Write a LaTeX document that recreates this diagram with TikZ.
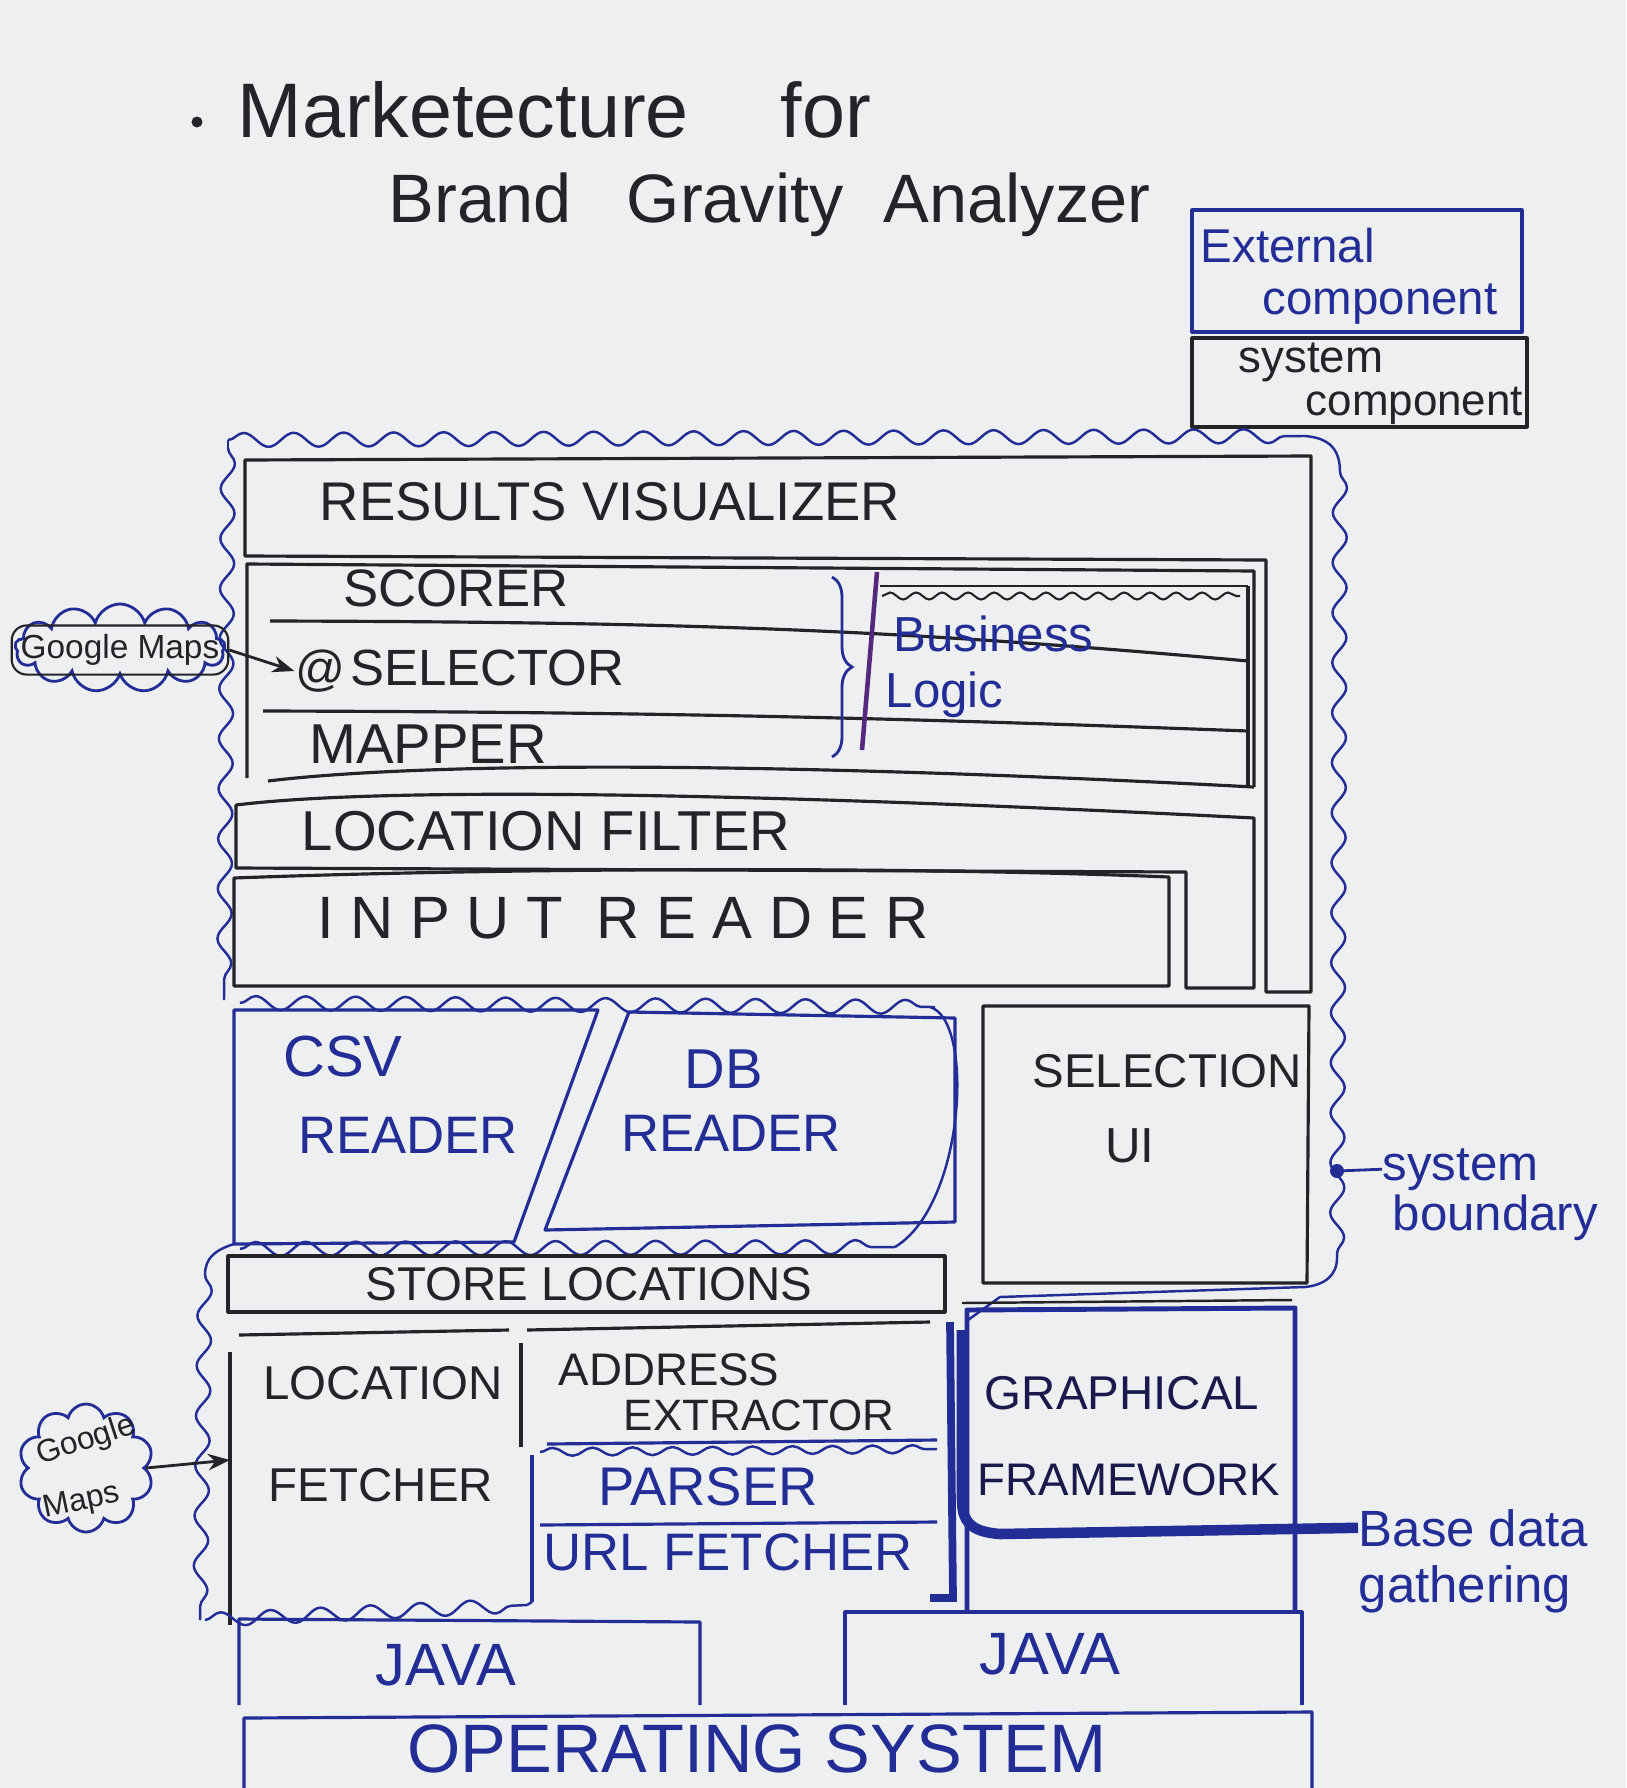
\documentclass[tikz,border=0pt]{standalone}
\usepackage{fontspec}
\setmainfont{Liberation Sans}
\usetikzlibrary{decorations.pathmorphing,decorations.pathreplacing,shapes.symbols,arrows.meta}
\definecolor{paper}{RGB}{238,239,241}
\definecolor{inkk}{RGB}{35,35,40}
\definecolor{inkb}{RGB}{35,45,150}
\definecolor{inkn}{RGB}{25,25,75}
\definecolor{inkp}{RGB}{85,40,125}
\tikzset{
  sysbox/.style={draw=inkk, line width=0.9pt, line join=round},
  extbox/.style={draw=inkb, line width=0.9pt, line join=round},
  wavy/.style={draw=inkb, line width=0.7pt, decorate, decoration={snake, amplitude=0.7mm, segment length=5mm}},
  ktext/.style={text=inkk, inner sep=0pt},
  btext/.style={text=inkb, inner sep=0pt},
  ntext/.style={text=inkn, inner sep=0pt},
  fs/.style={font=\fontsize{#1}{#1}\selectfont},
}
\begin{document}
\begin{tikzpicture}[x=0.1mm, y=-0.1mm]
\useasboundingbox (0,0) rectangle (1626,1788);
\fill[paper] (0,0) rectangle (1626,1788);

% ---------- title ----------
\node[circle, fill=inkk, inner sep=0pt, minimum size=1.1mm] (bul) at (197,122) {};
\node[ktext, fs=22, anchor=base west] (t1) at (237,137) {Marketecture};
\node[ktext, fs=22, anchor=base west] (t2) at (780,137) {for};
\node[ktext, fs=19.5, anchor=base west] (t3) at (388,222) {Brand};
\node[ktext, fs=19.5, anchor=base west] (t4) at (626,222) {Gravity};
\node[ktext, fs=19.5, anchor=base west] (t5) at (883,222) {Analyzer};

% ---------- legend ----------
\draw[extbox] (1192,210) rectangle (1522,332);
\node[btext, fs=13.5, anchor=base west] (le1) at (1200,262) {External};
\node[btext, fs=13.5, anchor=base west] (le2) at (1262,314) {component};
\draw[sysbox] (1192,338) rectangle (1527,427);
\node[ktext, fs=13, anchor=base west] (ls1) at (1238,372) {system};
\node[ktext, fs=12.5, anchor=base west] (ls2) at (1305,415) {component};

% ---------- system boundary (upper) ----------
\draw[wavy] (228,440) -- (1305,436);
\draw[inkb, line width=0.7pt] (1305,436) .. controls (1330,438) and (1340,450) .. (1340,472);
\draw[wavy] (1340,472) -- (1337,1258);
\draw[inkb, line width=0.7pt] (1337,1258) .. controls (1337,1275) and (1325,1285) .. (1305,1287)
  -- (1000,1297) -- (968,1320);
\draw[wavy] (228,448) -- (224,1000);
\draw[inkb, line width=0.7pt] (228,440) -- (228,448);

% ---------- top stack ----------
% Results visualizer (L shape)
\draw[sysbox] (245,460) -- (1311,456) -- (1311,992) -- (1266,992) -- (1266,560) -- (245,556) -- cycle;
\node[ktext, fs=15.5] (rv) at (610,502) {RESULTS VISUALIZER};
% Business logic block
\draw[sysbox] (247,778) -- (247,564) -- (1254,571) -- (1254,787);
\draw[sysbox] (270,621) .. controls (700,622) and (900,630) .. (1248,661);
\draw[sysbox] (263,711) .. controls (700,712) and (950,720) .. (1248,731);
\draw[sysbox] (268,781) .. controls (400,765) and (700,758) .. (1254,787);
\draw[sysbox] (1248,586) -- (1248,785);
\draw[sysbox, line width=0.6pt] (880,586) -- (1248,586);
\draw[inkk, line width=0.6pt, decorate, decoration={snake, amplitude=0.35mm, segment length=2.6mm}] (882,596) -- (1240,596);
\node[ktext, fs=15] (sc) at (456,588) {SCORER};
\node[ktext, fs=14] (at) at (320,671) {@};
\node[ktext, fs=14.5] (sel) at (487,668) {SELECTOR};
\node[ktext, fs=16] (map) at (428,744) {MAPPER};
% business logic annotation
\draw[inkb, line width=0.8pt, decorate, decoration={brace, amplitude=2mm}] (832,577) -- (832,757);
\draw[inkp, line width=1.3pt] (877,572) -- (862,750);
\node[btext, fs=14, anchor=base west] (bl1) at (893,651) {Business};
\node[btext, fs=14, anchor=base west] (bl2) at (885,707) {Logic};
% Location filter (L shape)
\draw[sysbox] (236,805) .. controls (400,785) and (800,795) .. (1254,818) -- (1254,988) -- (1186,988) -- (1186,872) -- (236,868) -- cycle;
\node[ktext, fs=16] (lf) at (546,831) {LOCATION FILTER};
% Input reader
\draw[sysbox] (234,878) .. controls (500,868) and (900,866) .. (1169,877) -- (1169,986) -- (234,986) -- cycle;
\node[ktext, fs=17] (ir) at (623,918) {I N P U T \ R E A D E R};

% Google maps (1)
\node[cloud, draw=inkb, line width=0.8pt, cloud puffs=13, aspect=2.6, minimum width=21mm, minimum height=8.8mm, inner sep=0pt] (gm1) at (120,648) {};
\node[ktext, fs=9.5, draw=inkk, line width=0.6pt, rounded corners=1.5mm, inner sep=0.9mm] (gm1t) at (120,650) {Google Maps};
\draw[inkk, line width=0.8pt, -{Stealth[length=2.2mm]}] (gm1t.east) -- (at.west);

% ---------- CSV / DB readers ----------
\draw[extbox] (234,1010) -- (598,1010) -- (514,1242) -- (234,1244) -- cycle;
\draw[extbox] (629,1012) -- (955,1018) -- (955,1222) -- (545,1230) -- cycle;
\draw[wavy] (240,1003) -- (935,1007);
\draw[wavy] (240,1249) -- (895,1247);
\draw[inkb, line width=0.7pt] (930,1007) .. controls (975,1020) and (965,1205) .. (895,1247);
\node[btext, fs=16.5] (csv1) at (343,1057) {CSV};
\node[btext, fs=15] (csv2) at (408,1135) {READER};
\node[btext, fs=16] (db1) at (724,1069) {DB};
\node[btext, fs=15] (db2) at (731,1133) {READER};

% Selection UI
\draw[sysbox] (983,1006) -- (1309,1006) -- (1307,1283) -- (983,1283) -- cycle;
\node[ktext, fs=13.5] (su1) at (1167,1071) {SELECTION};
\node[ktext, fs=14] (su2) at (1130,1146) {UI};

% system boundary label
\node[circle, fill=inkb, inner sep=0pt, minimum size=1.4mm] (sbdot) at (1337,1171) {};
\node[btext, fs=14, anchor=base west] (sb1) at (1382,1180) {system};
\node[btext, fs=14, anchor=base west] (sb2) at (1392,1230) {boundary};
\draw[inkb, line width=0.8pt] (sbdot.center) -- (sb1.west);

% ---------- base data gathering ----------
\draw[sysbox] (228,1256) rectangle (945,1312);
\node[ktext, fs=13.5] (st) at (589,1284) {STORE LOCATIONS};
% location fetcher
\draw[sysbox] (239,1335) -- (509,1330);
\draw[sysbox] (230,1352) -- (230,1625);
\draw[sysbox] (521,1343) -- (521,1447);
\node[ktext, fs=13.5] (lo1) at (383,1383) {LOCATION};
\node[ktext, fs=13.5] (lo2) at (381,1485) {FETCHER};
\coordinate (lfl) at (230,1460);
% address extractor
\draw[sysbox] (527,1330) -- (930,1322);
\node[ktext, fs=13] (ad1) at (669,1370) {ADDRESS};
\node[ktext, fs=12.5] (ad2) at (759,1415) {EXTRACTOR};
% parser / url fetcher
\draw[extbox] (547,1444) -- (937,1440);
\draw[wavy, decoration={snake, amplitude=0.4mm, segment length=4mm}] (540,1452) -- (937,1449);
\draw[extbox] (532,1455) -- (532,1602);
\draw[extbox] (540,1525) -- (937,1522);
\node[btext, fs=15.5] (pa) at (708,1487) {PARSER};
\node[btext, fs=15] (uf) at (728,1552) {URL FETCHER};
% lower boundary
\draw[inkb, line width=0.7pt] (234,1244) .. controls (215,1250) and (205,1258) .. (205,1275);
\draw[wavy] (205,1275) -- (200,1620);
\draw[wavy] (205,1620) -- (527,1605);
\draw[inkb, line width=0.7pt] (527,1605) -- (532,1602);
\draw[inkb, line width=2.2pt] (950,1322) -- (953,1598) -- (930,1598);

% graphical framework
\draw[sysbox, line width=0.7pt] (962,1303) -- (1292,1300);
\draw[extbox, line width=1.4pt] (967,1612) -- (967,1310) -- (1295,1308) -- (1295,1612);
\node[ntext, fs=13.5] (gf1) at (1122,1393) {GRAPHICAL};
\node[ntext, fs=13] (gf2) at (1129,1480) {FRAMEWORK};
\node[btext, fs=14.5, anchor=base west] (bd1) at (1358,1546) {Base data};
\node[btext, fs=14.5, anchor=base west] (bd2) at (1358,1602) {gathering};
\draw[inkb, line width=3pt] (962,1330) -- (962,1500) .. controls (962,1525) and (975,1532) .. (1000,1534) -- (bd1.west);

% Google maps (2)
\node[cloud, draw=inkb, line width=0.8pt, cloud puffs=10, aspect=1, minimum width=13.5mm, minimum height=12.8mm, inner sep=0pt] (gm2) at (86,1468) {};
\node[ktext, fs=9, rotate=18] (gm2a) at (86,1441) {Google};
\node[ktext, fs=9, rotate=12] (gm2b) at (82,1502) {Maps};
\draw[inkk, line width=0.8pt, -{Stealth[length=2.2mm]}] (gm2.east) -- (lfl);

% ---------- platform ----------
\draw[extbox] (239,1705) -- (239,1619) -- (700,1622) -- (700,1705);
\node[btext, fs=17] (j1) at (446,1665) {JAVA};
\draw[extbox] (845,1705) -- (845,1612) -- (1302,1612) -- (1302,1705);
\node[btext, fs=17] (j2) at (1050,1654) {JAVA};
\draw[extbox] (244,1800) -- (244,1718) -- (1312,1712) -- (1312,1800);
\node[btext, fs=19.5, anchor=base] (os) at (757,1772) {OPERATING SYSTEM};
\end{tikzpicture}
\end{document}
